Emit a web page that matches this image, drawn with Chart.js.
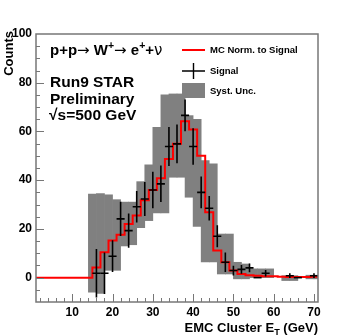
<!DOCTYPE html>
<html>
<head>
<meta charset="utf-8">
<script src="https://cdn.jsdelivr.net/npm/chart.js@4.4.1/dist/chart.umd.min.js"></script>
<style>
html, body { margin: 0; padding: 0; background: #fff; }
</style>
</head>
<body>
<canvas id="grafico" width="354" height="336"></canvas>
<script>
// MC normalizado (centros de bin de 2 GeV)
const mcCentros = [2, 4, 6, 8, 10, 12, 14, 16, 18, 20, 22, 24, 26, 28, 30, 32, 34, 36, 38, 40,
                   42, 44, 46, 48, 50, 52, 54, 56, 58, 60, 62, 64, 66, 68, 70];
const mcValores = [0, 0, 0, 0, 0, 0, 0, 4.2, 10.4, 15.2, 17.6, 22, 25.5, 31.8, 36, 40.8, 48.7, 55, 64.2, 60.8,
                   50, 26.8, 11.1, 6.3, 2.9, 1.5, 1.0, 0.8, 0.6, 0.6, 0.4, 0.3, 0.3, 0.3, 0.4];

// senal
const senalX   = [16, 18, 20, 22, 24, 26, 28, 30, 32, 34, 36, 38, 40, 42, 44, 46, 48, 50, 52, 54, 56, 58, 64, 66, 70];
const senalY   = [1.8, 1.8, 8.8, 24.1, 19.3, 29.1, 32.3, 36, 38.5, 53.8, 54.9, 66.6, 53.8, 35, 28.5, 17, 6.3, 2.9, 3.4, 4, 0, 1.8, 0.8, 0, 0.8];
const senalErr = [10, 8.5, 6.5, 7, 7, 6.5, 7, 7.5, 7.5, 8, 8, 6.5, 7.5, 6.5, 5, 4.5, 4, 2, 1.8, 1.8, 0, 1.3, 1, 0, 1];

// incertidumbre sistematica
const sistX    = [15, 17, 19, 21, 23, 25, 27, 29, 31, 33, 35, 37, 39, 41, 43, 45, 47, 49, 51, 53, 55, 57, 59, 63, 65, 69, 71];
const sistBajo = [-6, -6.5, 3, 3, 13, 13.5, 20.5, 23.4, 26.6, 26.6, 41.2, 41.2, 33, 21, 6.5, 6.5, 1.5, 1.5, -0.5, -0.5, 0, 0, 0, -1.2, -1.2, -0.5, -0.5];
const sistAlto = [34.3, 34.5, 34, 32, 31, 31, 39.4, 46.3, 61.7, 75, 75.4, 75.4, 66.5, 65, 48, 46.7, 17.9, 17.9, 6.3, 5.6, 3.6, 3.6, 3.6, 0.8, 0.8, 1, 1];

// marcas con etiqueta
const ticksX = [10, 20, 30, 40, 50, 60, 70];
const ticksY = [0, 20, 40, 60, 80, 100];

const fuente = '"Liberation Sans", Arial, Helvetica, sans-serif';
const fuenteSimbolo = '"DejaVu Sans", sans-serif';
const gris = '#808080';
const marco = '#777777';

// histograma como escalera: borde inferior de cada bin + cierre
const mcPuntos = mcCentros.map((c, i) => ({ x: c - 1, y: mcValores[i] }));
mcPuntos.push({ x: mcCentros[mcCentros.length - 1] + 1, y: mcValores[mcValores.length - 1] });

function fuenteParte(p, tam) {
    const t = p.sup || p.sub ? tam * 0.7 : tam;
    if (p.simbolo) return t + 'px ' + fuenteSimbolo;
    return 'bold ' + t + 'px ' + fuente;
}

function textoPartes(ctx, partes, x, y, tam) {
    let cx = x;
    partes.forEach(p => {
        ctx.font = fuenteParte(p, tam);
        let dy = 0;
        if (p.sup) dy = -tam * 0.4;
        if (p.sub) dy = tam * 0.25;
        ctx.fillText(p.t, cx, y + dy);
        cx += ctx.measureText(p.t).width;
    });
    return cx - x;
}

function anchoPartes(ctx, partes, tam) {
    let w = 0;
    partes.forEach(p => {
        ctx.font = fuenteParte(p, tam);
        w += ctx.measureText(p.t).width;
    });
    return w;
}

const decorado = {
    id: 'decorado',
    afterDatasetsDraw(chart) {
        const ctx = chart.ctx;
        const a = chart.chartArea;
        const x = chart.scales.x;
        const y = chart.scales.y;
        ctx.save();

        // barras de error de la senal
        ctx.strokeStyle = '#000';
        ctx.lineWidth = 1.6;
        senalX.forEach((v, i) => {
            const px = x.getPixelForValue(v);
            const py = y.getPixelForValue(senalY[i]);
            ctx.beginPath();
            ctx.moveTo(x.getPixelForValue(v - 1), py);
            ctx.lineTo(x.getPixelForValue(v + 1), py);
            if (senalErr[i] > 0) {
                ctx.moveTo(px, y.getPixelForValue(senalY[i] - senalErr[i]));
                ctx.lineTo(px, y.getPixelForValue(senalY[i] + senalErr[i]));
            }
            ctx.stroke();
        });

        // marco y marcas hacia adentro
        ctx.strokeStyle = marco;
        ctx.lineWidth = 1.5;
        ctx.strokeRect(a.left, a.top, a.right - a.left, a.bottom - a.top);
        ctx.lineWidth = 1;
        ctx.beginPath();
        for (let v = 2; v <= 70; v += 2) {
            const px = Math.round(x.getPixelForValue(v)) + 0.5;
            const largo = v % 10 === 0 ? 8 : 4;
            ctx.moveTo(px, a.bottom);
            ctx.lineTo(px, a.bottom - largo);
        }
        for (let v = -5; v <= 95; v += 5) {
            const py = Math.round(y.getPixelForValue(v)) + 0.5;
            const largo = v % 20 === 0 ? 8 : 4;
            ctx.moveTo(a.left, py);
            ctx.lineTo(a.left + largo, py);
        }
        ctx.stroke();

        // titulos de ejes
        ctx.fillStyle = '#000';
        ctx.textBaseline = 'alphabetic';
        ctx.textAlign = 'left';
        const tituloX = [{ t: 'EMC Cluster E' }, { t: 'T', sub: true }, { t: ' (GeV)' }];
        const wx = anchoPartes(ctx, tituloX, 13);
        textoPartes(ctx, tituloX, a.right - wx, 331.5, 13);

        ctx.save();
        ctx.translate(13, 31);
        ctx.rotate(-Math.PI / 2);
        ctx.textAlign = 'right';
        ctx.font = 'bold 13px ' + fuente;
        ctx.fillText('Counts', 0, 0);
        ctx.restore();

        // textos del panel
        ctx.textAlign = 'left';
        textoPartes(ctx, [{ t: 'p+p' }, { t: '\u2192', simbolo: true }, { t: ' W' }, { t: '+', sup: true },
                          { t: '\u2192', simbolo: true }, { t: ' e' }, { t: '+', sup: true }, { t: '+' },
                          { t: '\u03bd', simbolo: true }], 50, 55, 15);
        ctx.font = 'bold 15.5px ' + fuente;
        ctx.fillText('Run9 STAR', 50, 87);
        ctx.fillText('Preliminary', 50, 103.5);
        ctx.fillText('\u221as=500 GeV', 49, 120);

        // leyenda
        ctx.strokeStyle = '#ff0000';
        ctx.lineWidth = 2;
        ctx.beginPath();
        ctx.moveTo(182, 50);
        ctx.lineTo(205, 50);
        ctx.stroke();
        ctx.strokeStyle = '#000';
        ctx.lineWidth = 1.4;
        ctx.beginPath();
        ctx.moveTo(182, 71);
        ctx.lineTo(205, 71);
        ctx.moveTo(193.5, 63);
        ctx.lineTo(193.5, 79);
        ctx.stroke();
        ctx.fillStyle = gris;
        ctx.fillRect(182, 83, 23, 15);
        ctx.fillStyle = '#000';
        ctx.textBaseline = 'middle';
        ctx.font = 'bold 9.5px ' + fuente;
        ctx.fillText('MC Norm. to Signal', 210, 50);
        ctx.fillText('Signal', 210, 71);
        ctx.fillText('Syst. Unc.', 210, 91);

        ctx.restore();
    }
};

new Chart(document.getElementById('grafico'), {
    data: {
        datasets: [{
            type: 'bar',
            label: 'Syst. Unc.',
            data: sistX.map((c, i) => ({ x: c, y: [sistBajo[i], sistAlto[i]] })),
            backgroundColor: gris,
            borderWidth: 0,
            barPercentage: 1,
            categoryPercentage: 1,
            order: 3
        }, {
            type: 'line',
            label: 'MC Norm. to Signal',
            data: mcPuntos,
            borderColor: '#ff0000',
            borderWidth: 2,
            stepped: 'before',
            pointRadius: 0,
            fill: false,
            order: 2
        }, {
            type: 'scatter',
            label: 'Signal',
            data: senalX.map((c, i) => ({ x: c, y: senalY[i] })),
            pointRadius: 0,
            order: 1
        }]
    },
    options: {
        responsive: false,
        animation: false,
        devicePixelRatio: 1,
        layout: { padding: { top: 34, right: 36, left: 0, bottom: 0 } },
        plugins: { legend: { display: false }, tooltip: { enabled: false } },
        scales: {
            x: {
                type: 'linear',
                min: 1,
                max: 71,
                offset: false,
                grid: { display: false, drawTicks: false },
                border: { display: false },
                ticks: { padding: 3, color: '#000', maxRotation: 0, autoSkip: false,
                         font: { family: fuente, size: 12, weight: 'bold' } },
                afterBuildTicks: s => { s.ticks = ticksX.map(v => ({ value: v })); },
                afterFit: s => { s.height = 34; }
            },
            y: {
                type: 'linear',
                min: -10,
                max: 100,
                grid: { display: false, drawTicks: false },
                border: { display: false },
                ticks: { padding: 4, color: '#000', autoSkip: false,
                         font: { family: fuente, size: 12, weight: 'bold' } },
                afterBuildTicks: s => { s.ticks = ticksY.map(v => ({ value: v })); },
                afterFit: s => { s.width = 36; }
            }
        }
    },
    plugins: [decorado]
});
</script>
</body>
</html>
